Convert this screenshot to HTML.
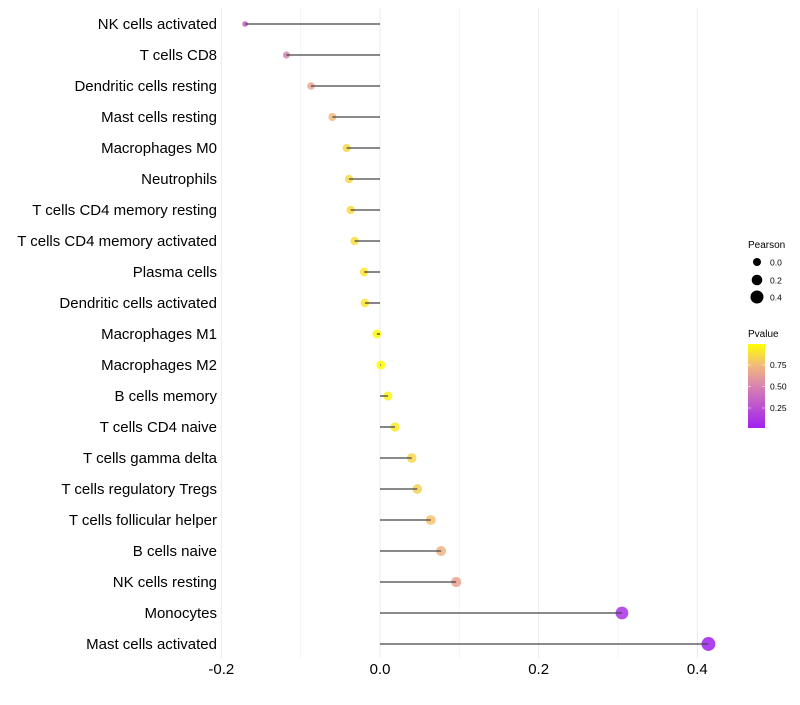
<!DOCTYPE html>
<html><head><meta charset="utf-8"><style>
body{margin:0;background:#fff;font-family:"Liberation Sans",sans-serif}
svg text{font-family:"Liberation Sans",sans-serif}
</style></head><body>
<svg id="chart" width="800" height="700">
<defs><linearGradient id="pg" x1="0" y1="1" x2="0" y2="0">
<stop offset="0" stop-color="#a020f0"/><stop offset="0.5" stop-color="#d884b0"/><stop offset="0.75" stop-color="#f1bb7a"/><stop offset="1" stop-color="#ffff00"/></linearGradient></defs>
<g id="grid"></g><g id="dots"></g><g id="marks"></g><g id="labels"></g>
<g>
<text x="748" y="248" font-size="10">Pearson</text>
<circle cx="757" cy="262" r="4" fill="#000"/><text x="770" y="265.5" font-size="8.5">0.0</text>
<circle cx="757" cy="280" r="5.3" fill="#000"/><text x="770" y="283.5" font-size="8.5">0.2</text>
<circle cx="757" cy="297" r="6.5" fill="#000"/><text x="770" y="300.5" font-size="8.5">0.4</text>
</g>
<g>
<text x="748" y="337" font-size="10">Pvalue</text>
<rect x="748" y="344" width="17" height="84" fill="url(#pg)"/>
<g stroke="#fff" stroke-width="0.8" opacity="0.7"><line x1="748" x2="751" y1="365" y2="365"/><line x1="762" x2="765" y1="365" y2="365"/><line x1="748" x2="751" y1="386.5" y2="386.5"/><line x1="762" x2="765" y1="386.5" y2="386.5"/><line x1="748" x2="751" y1="408" y2="408"/><line x1="762" x2="765" y1="408" y2="408"/></g>
<text x="770" y="368" font-size="8.5">0.75</text><text x="770" y="389.5" font-size="8.5">0.50</text><text x="770" y="411" font-size="8.5">0.25</text>
</g>
</svg>
<script>
const categories=["NK cells activated","T cells CD8","Dendritic cells resting","Mast cells resting","Macrophages M0","Neutrophils","T cells CD4 memory resting","T cells CD4 memory activated","Plasma cells","Dendritic cells activated","Macrophages M1","Macrophages M2","B cells memory","T cells CD4 naive","T cells gamma delta","T cells regulatory  Tregs ","T cells follicular helper","B cells naive","NK cells resting","Monocytes","Mast cells activated"];
const pearson=[-0.170,-0.118,-0.087,-0.060,-0.042,-0.039,-0.037,-0.032,-0.020,-0.019,-0.004,0.001,0.010,0.019,0.040,0.047,0.064,0.077,0.096,0.305,0.414];
const pvalues=[0.35,0.5,0.65,0.75,0.85,0.85,0.87,0.88,0.9,0.9,0.97,0.99,0.95,0.92,0.85,0.83,0.78,0.72,0.65,0.1,0.02];
const xTicks=[-0.2,0,0.2,0.4];
const xTickLabels=["-0.2","0.0","0.2","0.4"];
const minorTicks=[-0.1,0.1,0.3];
const NS="http://www.w3.org/2000/svg";
const xs=v=>380+v*793.3;
const ys=i=>24+i*31;
function mk(tag,attrs,parent){const e=document.createElementNS(NS,tag);for(const k in attrs)e.setAttribute(k,attrs[k]);parent.appendChild(e);return e;}
function lerp(a,b,t){return a+(b-a)*t}
const stops=[[0,[160,32,240]],[0.5,[216,132,176]],[0.75,[241,187,122]],[1,[255,255,0]]];
function col(p){let t=(p-0.017)/(0.994-0.017);t=Math.max(0,Math.min(1,t));for(let i=1;i<stops.length;i++){if(t<=stops[i][0]){const a=stops[i-1],b=stops[i];const u=(t-a[0])/(b[0]-a[0]);return `rgb(${a[1].map((c,j)=>Math.round(lerp(c,b[1][j],u))).join(',')})`;}}return 'rgb(255,255,0)';}
const grid=document.getElementById('grid'),marks=document.getElementById('marks'),dots=document.getElementById('dots'),labels=document.getElementById('labels');
minorTicks.forEach(v=>{const l=mk('line',{x1:xs(v),x2:xs(v),y1:8,y2:658,stroke:'#f4f4f4','stroke-width':1},grid);

});
xTicks.forEach((v,i)=>{const l=mk('line',{x1:xs(v),x2:xs(v),y1:8,y2:658,stroke:'#ebebeb','stroke-width':1},grid);


const t=mk('text',{x:xs(v),y:674,'font-size':15,'text-anchor':'middle',fill:'#000'},labels);t.textContent=xTickLabels[i];

});
categories.forEach((c,i)=>{
const y=ys(i);
const t=mk('text',{x:217,y:y+5,'font-size':15,'text-anchor':'end',fill:'#000'},labels);t.textContent=c;


const r=Math.sqrt(Math.max(2,20+68*pearson[i]));
const d=mk('circle',{cx:xs(pearson[i]),cy:y,r:r,fill:col(pvalues[i]),'fill-opacity':0.85},dots);


const l=mk('line',{x1:xs(0),x2:xs(pearson[i]),y1:y,y2:y,stroke:'#444','stroke-width':1.3},marks);


});
</script>
</body></html>
